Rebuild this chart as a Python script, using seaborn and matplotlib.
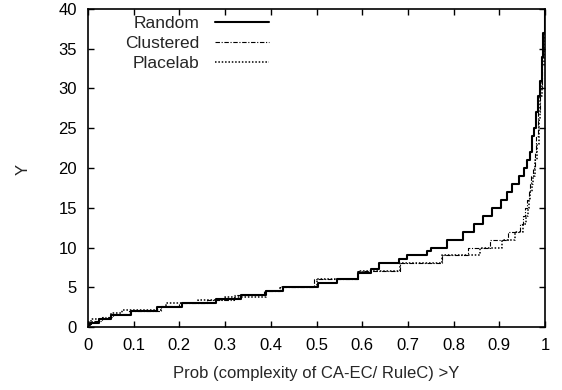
import matplotlib
matplotlib.use("Agg")
import matplotlib.pyplot as plt
import seaborn as sns
import pandas as pd

# Step breakpoints: fraction of cases (x) where complexity ratio first exceeds level Y
random_x = [0.0, 0.004, 0.024, 0.05, 0.095, 0.15, 0.206, 0.28, 0.335, 0.39, 0.427,
            0.503, 0.544, 0.59, 0.62, 0.637, 0.681, 0.699, 0.742, 0.75, 0.786, 0.821,
            0.845, 0.865, 0.884, 0.903, 0.916, 0.928, 0.942, 0.953, 0.96, 0.967, 0.971,
            0.976, 0.98, 0.985, 0.989, 0.993, 0.996, 0.999, 1.0]
random_y = [0.3, 0.5, 1.0, 1.5, 2.0, 2.5, 3.0, 3.5, 4.0, 4.5, 5.0,
            5.5, 6.0, 6.8, 7.3, 8.0, 8.5, 9.0, 9.5, 10.0, 11.0, 12.0,
            13.0, 14.0, 15.0, 16.0, 17.0, 18.0, 19.0, 20.0, 21.0, 22.0, 24.0,
            25.0, 27.0, 29.0, 31.0, 34.0, 37.0, 40.0, 41.0]

clustered_x = [0.0, 0.006, 0.03, 0.055, 0.09, 0.16, 0.2, 0.26, 0.32, 0.385, 0.42,
               0.495, 0.59, 0.683, 0.774, 0.832, 0.88, 0.918, 0.945, 0.952, 0.957,
               0.961, 0.964, 0.967, 0.970, 0.973, 0.977, 0.981, 0.985, 0.989, 0.993,
               0.996, 0.999, 1.0]
clustered_y = [0.4, 0.8, 1.2, 1.6, 2.0, 2.6, 3.0, 3.4, 4.0, 4.5, 5.0,
               6.0, 7.0, 8.0, 9.0, 10.0, 11.0, 12.0, 13.0, 14.0, 15.0,
               16.0, 17.0, 18.0, 19.0, 20.0, 22.0, 24.0, 27.0, 30.0, 34.0,
               37.0, 40.0, 41.0]

placelab_x = [0.0, 0.006, 0.05, 0.075, 0.16, 0.17, 0.24, 0.30, 0.39, 0.42, 0.50,
              0.59, 0.683, 0.774, 0.857, 0.905, 0.935, 0.952, 0.958, 0.962, 0.965,
              0.968, 0.971, 0.974, 0.978, 0.982, 0.986, 0.99, 0.994, 0.997, 0.999, 1.0]
placelab_y = [0.6, 1.0, 1.7, 2.1, 2.5, 3.0, 3.4, 3.8, 4.5, 5.0, 6.0,
              7.0, 8.0, 9.0, 10.0, 11.0, 12.0, 13.0, 14.0, 15.0, 16.0,
              17.0, 18.0, 19.0, 21.0, 23.0, 26.0, 29.0, 33.0, 37.0, 40.0, 41.0]

x_ticks = [0, 0.1, 0.2, 0.3, 0.4, 0.5, 0.6, 0.7, 0.8, 0.9, 1]
x_tick_labels = ["0", "0.1", "0.2", "0.3", "0.4", "0.5", "0.6", "0.7", "0.8", "0.9", "1"]
y_ticks = [0, 5, 10, 15, 20, 25, 30, 35, 40]

sns.set_theme(style="ticks")
plt.rcParams["font.family"] = ["Liberation Sans", "DejaVu Sans"]
plt.rcParams["font.size"] = 12

fig = plt.figure(figsize=(5.62, 3.9), dpi=100)
ax = fig.add_axes([0.1566, 0.1615, 0.8132, 0.8155])

series = [
    ("Random", random_x, random_y, dict(linestyle="-", linewidth=1.5)),
    ("Clustered", clustered_x, clustered_y, dict(dashes=(4, 1.5, 1, 1.5), linewidth=0.8)),
    ("Placelab", placelab_x, placelab_y, dict(dashes=(1, 1.2), linewidth=1.1)),
]
for name, xs, ys, style in series:
    df = pd.DataFrame({"prob": xs, "Y": ys})
    sns.lineplot(data=df, x="prob", y="Y", ax=ax, color="black", label=name,
                 estimator=None, sort=False, drawstyle="steps-post", **style)

ax.set_xlim(0, 1)
ax.set_ylim(0, 40)
ax.set_xticks(x_ticks)
ax.set_xticklabels(x_tick_labels)
ax.set_yticks(y_ticks)
ax.tick_params(direction="in", length=4, width=1, top=True, right=True,
               labelsize=12, colors="black")
ax.tick_params(axis="x", pad=8)
ax.tick_params(axis="y", pad=8)
for sp in ax.spines.values():
    sp.set_linewidth(1.2)
    sp.set_color("black")
ax.set_xlabel("Prob (complexity of CA-EC/ RuleC) >Y", fontsize=12)
ax.set_ylabel("Y", fontsize=12)
ax.xaxis.set_label_coords(0.5, -0.122)
ax.yaxis.set_label_coords(-0.125, 0.494)

leg = ax.legend(loc="upper right", bbox_to_anchor=(0.395, 0.977), frameon=False,
                markerfirst=False, handlelength=3.1, handletextpad=0.9,
                labelspacing=0.26, fontsize=12.5, borderaxespad=0, borderpad=0)

fig.savefig("out.png", dpi=100)
